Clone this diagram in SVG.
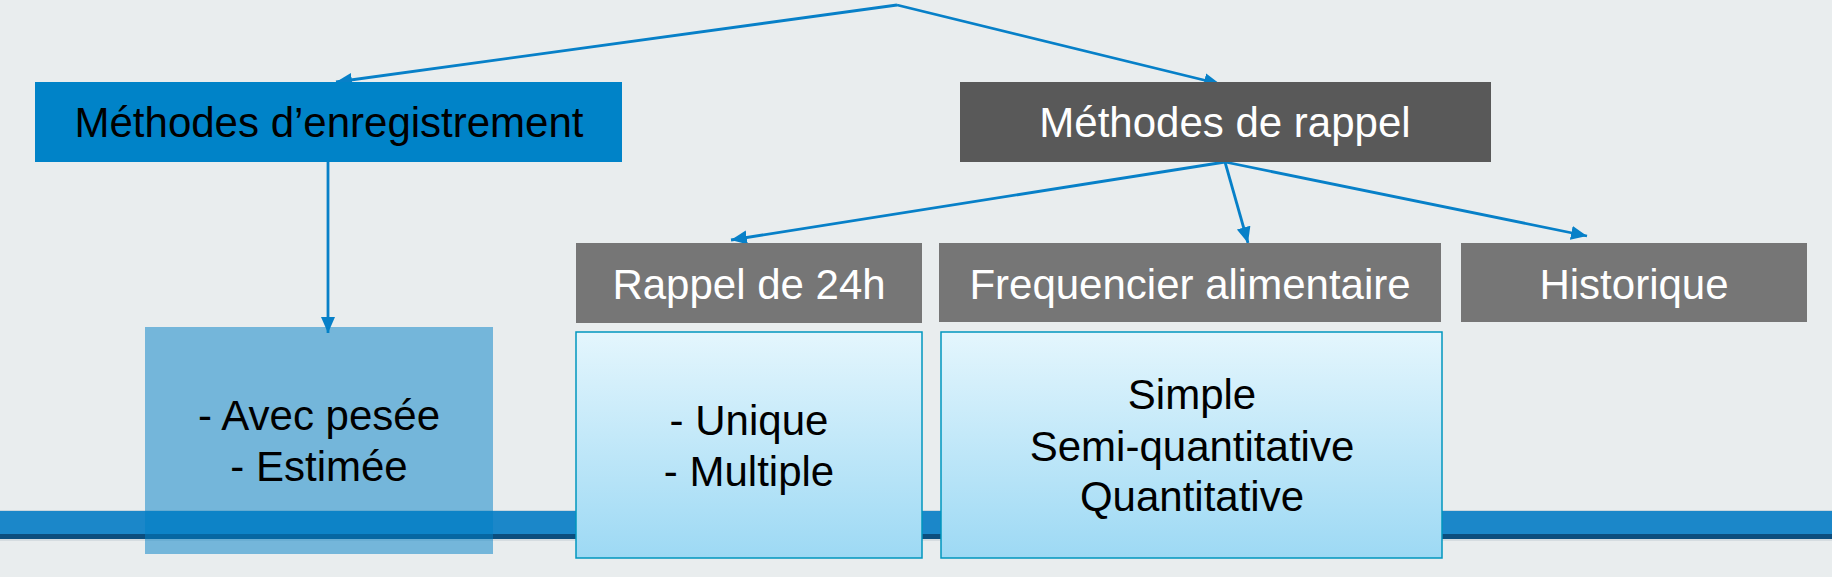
<svg xmlns="http://www.w3.org/2000/svg" width="1832" height="577" viewBox="0 0 1832 577">
<defs>
<linearGradient id="lb" x1="0" y1="0" x2="0" y2="1">
<stop offset="0" stop-color="#E4F6FD"/>
<stop offset="1" stop-color="#9DD9F4"/>
</linearGradient>
<marker id="ah" markerUnits="userSpaceOnUse" markerWidth="17" markerHeight="15" refX="16" refY="7" orient="auto">
<path d="M0,0 L16,7 L0,14 z" fill="#0780C8"/>
</marker>
<style>
text{font-family:"Liberation Sans",Arial,sans-serif;font-size:42px;text-anchor:middle}
.w{fill:#FFFFFF}
.k{fill:#000000}
.gray{fill:#767676}
.light{fill:url(#lb);stroke:#0096BE;stroke-width:1.5}
.conn{fill:none;stroke:#0780C8;stroke-width:2.8;marker-end:url(#ah)}
</style>
</defs>
<rect x="0" y="0" width="1832" height="577" fill="#E9EDEE"/>
<g id="band">
<rect x="0" y="510" width="1832" height="2" fill="#C9D6DE"/>
<rect x="0" y="511" width="1832" height="24" fill="#1B87C9"/>
<rect x="0" y="534" width="1832" height="5" fill="#0C4E7E"/>
<rect x="0" y="539" width="1832" height="2" fill="#D5DCE0"/>
</g>
<g id="connectors">
<path class="conn" d="M897,5 L336,82"/>
<path class="conn" d="M897,5 L1220,84"/>
<path class="conn" d="M328,162 L328,333"/>
<path class="conn" d="M1225,162 L731,240"/>
<path class="conn" d="M1225,162 L1248,243"/>
<path class="conn" d="M1225,162 L1587,236"/>
</g>
<g id="n-enregistrement">
<rect x="35" y="82" width="587" height="80" fill="#0083C8"/>
<text class="k" x="329" y="137">Méthodes d’enregistrement</text>
</g>
<g id="n-rappel">
<rect x="960" y="82" width="531" height="80" fill="#595959"/>
<text class="w" x="1225" y="137">Méthodes de rappel</text>
</g>
<g id="n-24h">
<rect class="gray" x="576" y="243" width="346" height="80"/>
<text class="w" x="749" y="299">Rappel de 24h</text>
</g>
<g id="n-frequencier">
<rect class="gray" x="939" y="243" width="502" height="79"/>
<text class="w" x="1190" y="299">Frequencier alimentaire</text>
</g>
<g id="n-historique">
<rect class="gray" x="1461" y="243" width="346" height="79"/>
<text class="w" x="1634" y="299">Historique</text>
</g>
<g id="n-pesee">
<rect x="145" y="327" width="348" height="227" fill="#007FC6" fill-opacity="0.5"/>
<text class="k" x="319" y="430">- Avec pesée</text>
<text class="k" x="319" y="481">- Estimée</text>
</g>
<g id="n-unique">
<rect class="light" x="576" y="332" width="346" height="226"/>
<text class="k" x="749" y="435">- Unique</text>
<text class="k" x="749" y="486">- Multiple</text>
</g>
<g id="n-simple">
<rect class="light" x="941" y="332" width="501" height="226"/>
<text class="k" x="1192" y="409">Simple</text>
<text class="k" x="1192" y="461">Semi-quantitative</text>
<text class="k" x="1192" y="511">Quantitative</text>
</g>
</svg>
